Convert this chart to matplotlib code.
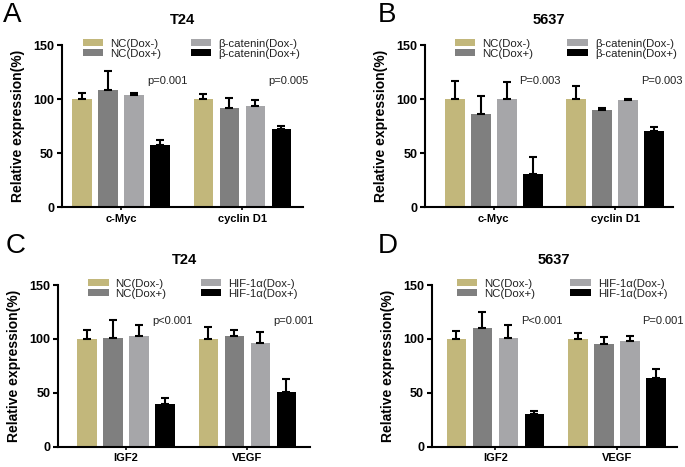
import numpy as np
import matplotlib
matplotlib.use("Agg")
import matplotlib.pyplot as plt

plt.rcParams["font.family"] = ["Liberation Sans", "DejaVu Sans"]

# ---------------------------------------------------------
# Data
# ---------------------------------------------------------
genes_ab = ["c-Myc", "cyclin D1"]
genes_cd = ["IGF2", "VEGF"]

labels_ab = ["NC(Dox-)", "NC(Dox+)", "β-catenin(Dox-)", "β-catenin(Dox+)"]
labels_cd = ["NC(Dox-)", "NC(Dox+)", "HIF-1α(Dox-)", "HIF-1α(Dox+)"]

# rows = groups in legend order, cols = genes
a_mean = [[100, 100], [109, 92], [104, 94], [57.5, 72.5]]
a_err = [[6, 5], [17, 9], [2, 5], [4.5, 2.5]]
a_p = ["p=0.001", "p=0.005"]

b_mean = [[100, 100], [86, 90], [100, 99], [31, 71]]
b_err = [[17, 12], [17, 2], [16, 1], [16, 3.5]]
b_p = ["P=0.003", "P=0.003"]

c_mean = [[100, 100], [101, 103], [102.5, 96], [39.5, 50.5]]
c_err = [[8, 11], [16.5, 5.5], [10, 10.5], [5.5, 12.5]]
c_p = ["p<0.001", "p=0.001"]

d_mean = [[100, 100], [110.5, 95], [100.5, 98], [30, 63.5]]
d_err = [[7, 5.5], [14.5, 7], [12.5, 4.5], [3, 8.5]]
d_p = ["P<0.001", "P=0.001"]

colors = ["#C2B77B", "#7F7F7F", "#A6A6A9", "#000000"]


def draw_panel(ax, genes, labels, means, errs, pvals, title, xlim, leg_x, colspace):
    group_pos = np.array([0.0, 4.67])
    offsets = [-1.5, -0.5, 0.5, 1.5]
    for k in range(4):
        x = group_pos + offsets[k]
        m = np.array(means[k])
        e = np.array(errs[k])
        ax.bar(x, m, width=0.75, color=colors[k], label=labels[k], zorder=2)
        ax.errorbar(x, m, yerr=[np.zeros_like(e), e], fmt="none", ecolor="black",
                    elinewidth=1.5, capsize=3, capthick=1.5, zorder=3)
    for g, p in zip(group_pos, pvals):
        ax.text(g + 1.5 + 0.28, 117, p, ha="center", va="center",
                fontsize=8, color="#222222")

    ax.set_xlim(*xlim)
    ax.set_ylim(0, 150)
    ax.set_yticks([0, 50, 100, 150])
    ax.set_xticks(group_pos)
    ax.set_xticklabels(genes, fontweight="bold", fontsize=8)
    for lab in ax.get_yticklabels():
        lab.set_fontweight("bold")
    ax.tick_params(axis="y", labelsize=9, length=3.5, width=1.5, pad=2)
    ax.tick_params(axis="x", length=2.5, width=1.2, pad=2)
    for s in ["top", "right"]:
        ax.spines[s].set_visible(False)
    for s in ["left", "bottom"]:
        ax.spines[s].set_linewidth(1.5)
    ax.set_ylabel("Relative expression(%)", fontsize=10, fontweight="bold", labelpad=6)
    ax.set_title(title, fontsize=10.5, fontweight="bold", pad=15)
    ax.legend(ncol=2, loc="upper left", bbox_to_anchor=(leg_x, 1.04),
              frameon=False, fontsize=8.2, handlelength=1.8, handleheight=0.6,
              handletextpad=0.6, labelspacing=0.0, columnspacing=colspace,
              borderpad=0, borderaxespad=0, labelcolor="#222222")


fig = plt.figure(figsize=(6.85, 4.67), dpi=100)

ax_a = fig.add_axes([0.0901, 0.5561, 0.3523, 0.3469])
ax_b = fig.add_axes([0.6204, 0.5561, 0.3620, 0.3469])
ax_c = fig.add_axes([0.0851, 0.0435, 0.3674, 0.3462])
ax_d = fig.add_axes([0.6302, 0.0435, 0.3581, 0.3462])

draw_panel(ax_a, genes_ab, labels_ab, a_mean, a_err, a_p, "T24", (-2.28, 7.0), 0.087, 2.6)
draw_panel(ax_b, genes_ab, labels_ab, b_mean, b_err, b_p, "5637", (-2.645, 6.89), 0.121, 3.0)
draw_panel(ax_c, genes_cd, labels_cd, c_mean, c_err, c_p, "T24", (-2.61, 7.08), 0.119, 3.0)
draw_panel(ax_d, genes_cd, labels_cd, d_mean, d_err, d_p, "5637", (-2.45, 6.98), 0.102, 3.1)

for letter, x, y in [("A", 0.004, 0.995), ("B", 0.551, 0.995),
                     ("C", 0.008, 0.502), ("D", 0.551, 0.502)]:
    fig.text(x, y, letter, fontsize=20, ha="left", va="top")

fig.savefig("out.png", dpi=100)
